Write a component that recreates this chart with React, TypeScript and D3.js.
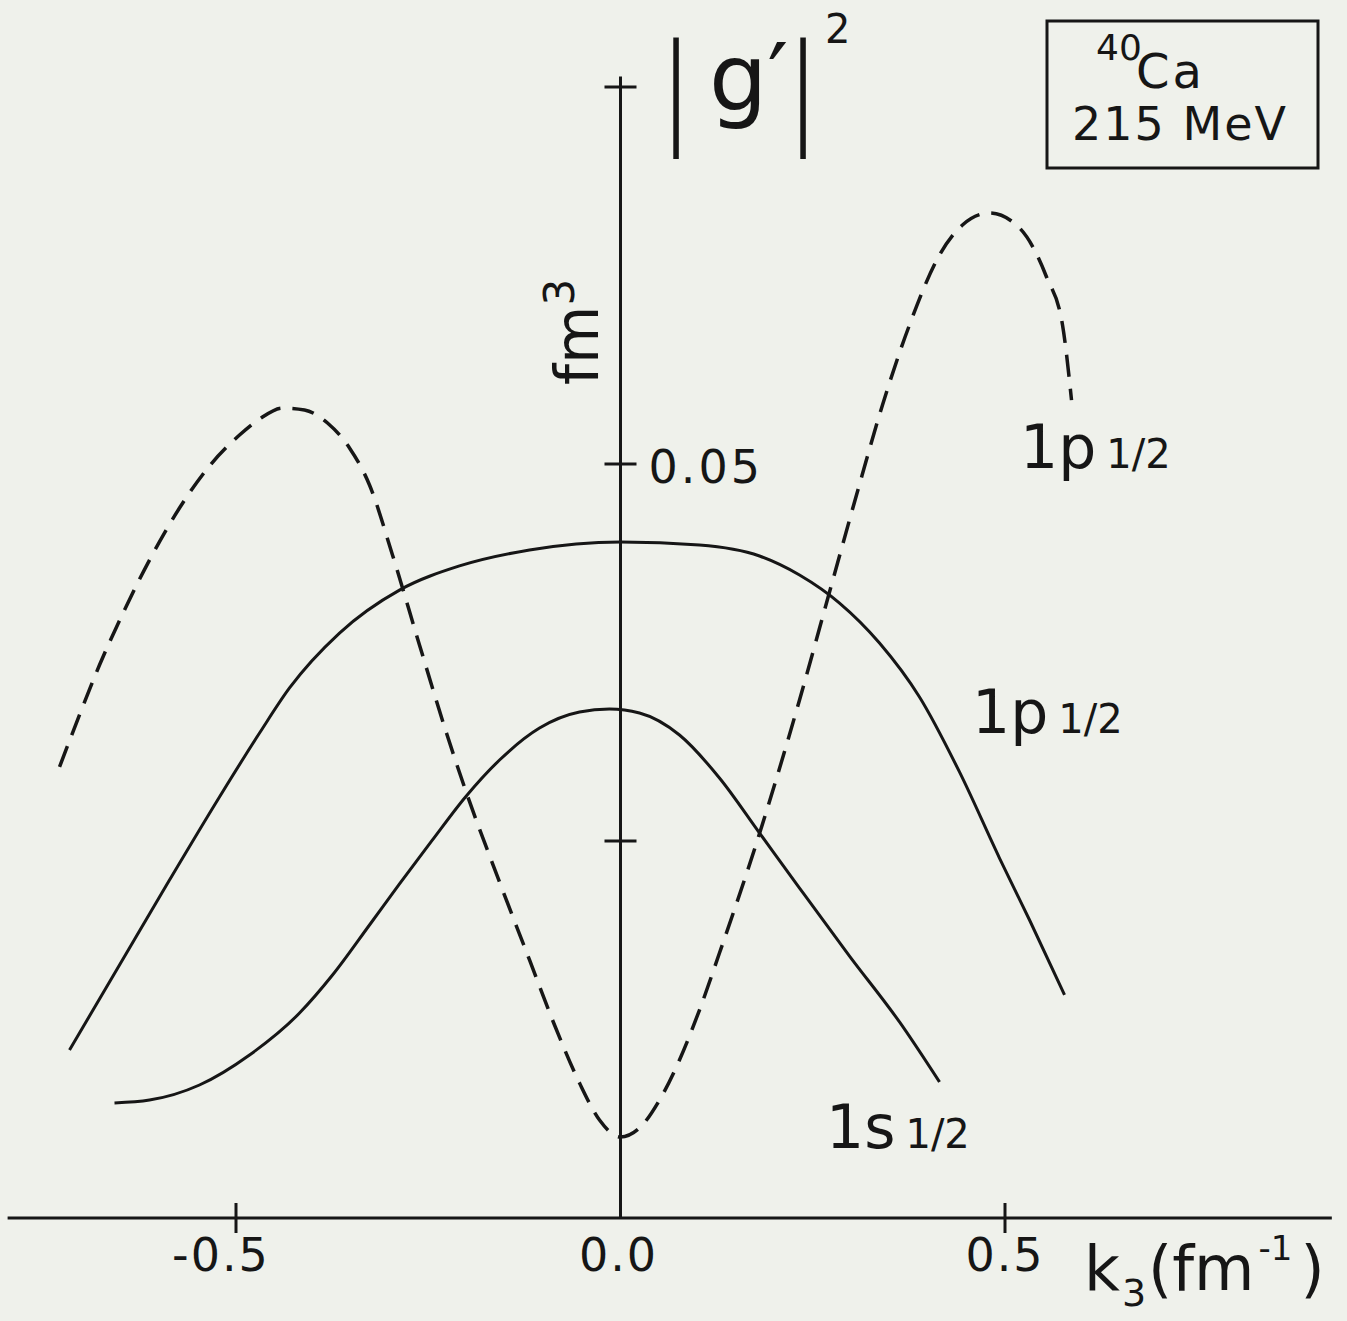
import React from "react";
import * as d3 from "d3";

// |g'|^2 momentum distributions for 40Ca at 215 MeV, plotted against k3 (fm^-1)

// Axis ticks
const X_TICKS = [-0.5, 0.0, 0.5];
const X_TICK_LABELS = ["-0.5", "0.0", "0.5"];
const Y_TICKS = [0.025, 0.05, 0.075];
const Y_TICK_LABELS = ["", "0.05", ""];

// 1p1/2 (dashed curve)
const P_DASHED_K = [
  -0.7295, -0.7035, -0.6775, -0.645, -0.6125, -0.5735, -0.5345, -0.4954, -0.4694, -0.4395,
  -0.4109, -0.381, -0.3524, -0.3264, -0.2965, -0.2614, -0.2263, -0.2016, -0.1573, -0.1183,
  -0.0858, -0.0533, -0.0273, 0.0, 0.0247, 0.0507, 0.0767, 0.1027, 0.1287, 0.1769,
  0.2328, 0.2718, 0.3069, 0.3407, 0.3758, 0.4148, 0.4447, 0.4798, 0.5189, 0.554,
  0.5748, 0.5865,
];
const P_DASHED_G = [
  0.02991, 0.03336, 0.03667, 0.04032, 0.04363, 0.04708, 0.04987, 0.05192, 0.05298, 0.05371,
  0.05358, 0.05272, 0.05106, 0.04861, 0.04397, 0.038, 0.03216, 0.02838, 0.02228, 0.01711,
  0.0128, 0.00895, 0.0065, 0.00537, 0.00597, 0.00782, 0.01048, 0.01379, 0.01757, 0.02487,
  0.03435, 0.04151, 0.04794, 0.05391, 0.05922, 0.06386, 0.06585, 0.06664, 0.06565, 0.0624,
  0.05922, 0.05424,
];

// 1p1/2 (solid curve)
const P_SOLID_K = [
  -0.7165, -0.6515, -0.5865, -0.5215, -0.4694, -0.4304, -0.3654, -0.2874, -0.2094, -0.1183,
  0.0, 0.1027, 0.1808, 0.2328, 0.2848, 0.3368, 0.3888, 0.4408, 0.4928, 0.5319, 0.5774,
];
const P_SOLID_G = [
  0.01114, 0.01678, 0.02241, 0.02792, 0.03216, 0.03515, 0.03879, 0.04164, 0.04324, 0.0443,
  0.04483, 0.04463, 0.0439, 0.04264, 0.04078, 0.03813, 0.03455, 0.02958, 0.02387, 0.01976,
  0.01479,
];

// 1s1/2 (solid curve)
const S_SOLID_K = [
  -0.658, -0.6125, -0.5475, -0.4824, -0.4174, -0.3745, -0.3264, -0.2874, -0.2445, -0.2016,
  -0.1573, -0.1053, -0.0533, -0.0143, 0.0247, 0.0767, 0.1287, 0.1808, 0.2328, 0.2978,
  0.3628, 0.4148,
];
const S_SOLID_G = [
  0.00763, 0.00782, 0.00882, 0.01081, 0.01359, 0.01611, 0.01943, 0.02215, 0.02507, 0.02792,
  0.03037, 0.03249, 0.03355, 0.03375, 0.03349, 0.03203, 0.02918, 0.02553, 0.02188, 0.01737,
  0.013, 0.00902,
];

const W = 1347;
const H = 1321;
const INK = "#161616";
const PAPER = "#eff1eb";
const FONT = "'DejaVu Sans', 'Liberation Sans', sans-serif";

const x = d3.scaleLinear().domain([-0.5, 0.5]).range([236, 1005]);
const y = d3.scaleLinear().domain([0, 0.05]).range([1218, 464]);

const zip = (ks: number[], gs: number[]) => ks.map((k, i) => [k, gs[i]] as [number, number]);

const line = d3
  .line<[number, number]>()
  .x((d) => x(d[0]))
  .y((d) => y(d[1]))
  .curve(d3.curveMonotoneX);

function StateLabel({ px, py, l }: { px: number; py: number; l: string }) {
  return (
    <text x={px} y={py} fontFamily={FONT} fontSize={60} fill={INK}>
      {`1${l}`}
      <tspan fontSize={40} dx={10}>1/2</tspan>
    </text>
  );
}

export default function App() {
  const x0 = x(0);
  const y0 = y(0);
  return (
    <svg
      width={W}
      height={H}
      viewBox={`0 0 ${W} ${H}`}
      style={{ position: "absolute", left: 0, top: 0, display: "block", background: PAPER }}
    >
      <rect x={0} y={0} width={W} height={H} fill={PAPER} />

      {/* axes */}
      <line x1={x(-0.797)} x2={x(0.925)} y1={y0} y2={y0} stroke={INK} strokeWidth={3} />
      <line x1={x0} x2={x0} y1={y(0.0757)} y2={y0} stroke={INK} strokeWidth={3} />

      {X_TICKS.map((t, i) => (
        <g key={`xt${i}`}>
          {t !== 0 && (
            <line x1={x(t)} x2={x(t)} y1={y0 - 15} y2={y0 + 15} stroke={INK} strokeWidth={3} />
          )}
          <text
            x={x(t) + (t < 0 ? -15 : t === 0 ? -2 : 0)}
            y={1271}
            textAnchor="middle"
            fontFamily={FONT}
            fontSize={46}
            letterSpacing={2}
            fill={INK}
          >
            {X_TICK_LABELS[i]}
          </text>
        </g>
      ))}

      {Y_TICKS.map((t, i) => (
        <g key={`yt${i}`}>
          <line x1={x0 - 16} x2={x0 + 16} y1={y(t)} y2={y(t)} stroke={INK} strokeWidth={3} />
          {Y_TICK_LABELS[i] && (
            <text
              x={x0 + 28}
              y={y(t) + 19}
              fontFamily={FONT}
              fontSize={46}
              letterSpacing={3}
              fill={INK}
            >
              {Y_TICK_LABELS[i]}
            </text>
          )}
        </g>
      ))}

      {/* curves */}
      <path
        d={line(zip(P_DASHED_K, P_DASHED_G)) || ""}
        fill="none"
        stroke={INK}
        strokeWidth={3.5}
        strokeDasharray="22 12"
      />
      <path d={line(zip(P_SOLID_K, P_SOLID_G)) || ""} fill="none" stroke={INK} strokeWidth={3} />
      <path d={line(zip(S_SOLID_K, S_SOLID_G)) || ""} fill="none" stroke={INK} strokeWidth={3} />

      {/* curve labels */}
      <StateLabel px={1020} py={468} l="p" />
      <StateLabel px={972} py={733} l="p" />
      <StateLabel px={826} py={1148} l="s" />

      {/* y-axis title */}
      <text
        transform="translate(676, 130) scale(0.55, 1)"
        textAnchor="middle"
        fontFamily={FONT}
        fontSize={122}
        fill={INK}
      >
        |
      </text>
      <text x={709} y={110} fontFamily={FONT} fontSize={92} fill={INK}>
        g′
      </text>
      <text
        transform="translate(803, 130) scale(0.55, 1)"
        textAnchor="middle"
        fontFamily={FONT}
        fontSize={122}
        fill={INK}
      >
        |
      </text>
      <text x={825} y={43} fontFamily={FONT} fontSize={40} fill={INK}>
        2
      </text>

      {/* y-axis unit */}
      <text transform="translate(598, 385) rotate(-90)" fontFamily={FONT} fontSize={60} fill={INK}>
        fm<tspan fontSize={42} dy={-24}>3</tspan>
      </text>

      {/* x-axis title */}
      <text x={1084} y={1290} fontFamily={FONT} fontSize={62} fill={INK}>
        k<tspan fontSize={38} dx={2} dy={16}>3</tspan>
        <tspan dx={2} dy={-16}>(fm</tspan>
        <tspan fontSize={34} dx={4} dy={-30}>-1</tspan>
        <tspan dx={8} dy={30}>)</tspan>
      </text>

      {/* nucleus / energy box */}
      <rect x={1047} y={21} width={271} height={147} fill="none" stroke={INK} strokeWidth={3} />
      <text x={1096} y={60} fontFamily={FONT} fontSize={36} fill={INK}>
        40
      </text>
      <text x={1136} y={88} fontFamily={FONT} fontSize={48} letterSpacing={3} fill={INK}>
        Ca
      </text>
      <text
        x={1180}
        y={140}
        textAnchor="middle"
        fontFamily={FONT}
        fontSize={46}
        letterSpacing={2}
        fill={INK}
      >
        215 MeV
      </text>
    </svg>
  );
}
